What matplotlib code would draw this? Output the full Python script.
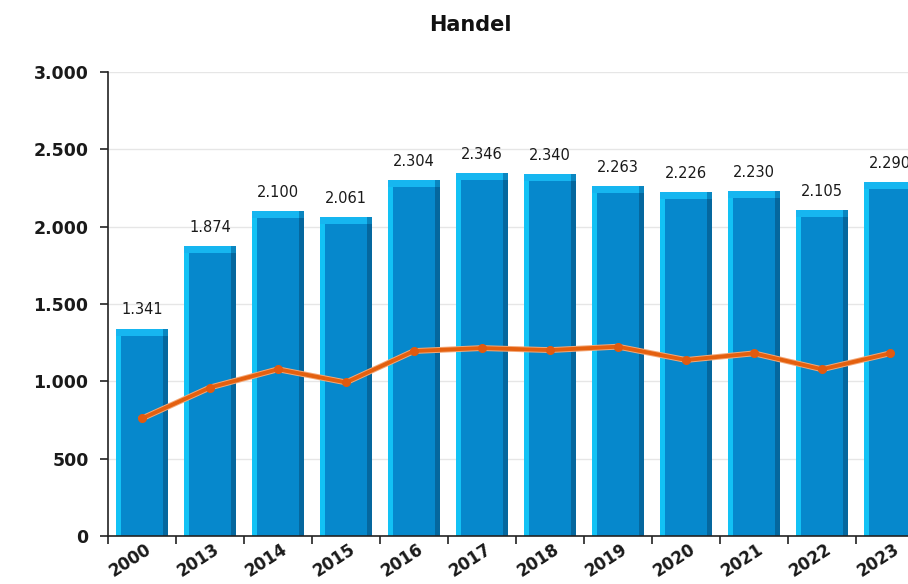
import matplotlib
matplotlib.use("Agg")
import matplotlib.pyplot as plt
import matplotlib.patheffects as pe
import matplotlib.transforms as mtransforms
from matplotlib.ticker import FuncFormatter, MultipleLocator
import numpy as np

categories = ["2000", "2013", "2014", "2015", "2016", "2017", "2018", "2019",
              "2020", "2021", "2022", "2023"]
bar_values = [1341, 1874, 2100, 2061, 2304, 2346, 2340, 2263, 2226, 2230, 2105, 2290]
line_values = [760, 960, 1078, 993, 1196, 1215, 1202, 1224, 1138, 1181, 1078, 1181]
title = "Handel"


def fmt(v):
    return f"{int(v):,}".replace(",", ".")


W, H = 908, 584
fig = plt.figure(figsize=(W / 100, H / 100), dpi=100)
ax_left, ax_right, ax_top, ax_bottom = 108, 924, 72, 536
ax = fig.add_axes([ax_left / W, (H - ax_bottom) / H,
                   (ax_right - ax_left) / W, (ax_bottom - ax_top) / H])

x = np.arange(len(categories))
bw = 0.77
main_c = "#0688CC"
light_c = "#12C2F5"
dark_c = "#05679E"

ax.set_xlim(-0.5, len(categories) - 0.5)
ax.set_ylim(0, 3000)

# bars with pseudo-3D styling
ax.bar(x, bar_values, width=bw, color=main_c, zorder=2)
edge_w = 0.07
ax.bar(x - bw / 2 + edge_w / 2, bar_values, width=edge_w, color=light_c, zorder=2.1)
ax.bar(x + bw / 2 - edge_w / 2, bar_values, width=edge_w, color=dark_c, zorder=2.1)
cap = 45
vals = np.array(bar_values)
ax.bar(x, [cap] * len(x), bottom=vals - cap, width=bw, color="#16B6F0", zorder=2.2)
ax.bar(x + bw / 2 - edge_w / 2, [cap] * len(x), bottom=vals - cap, width=edge_w,
       color="#0A86C0", zorder=2.3)

# value labels
for xi, v in zip(x, bar_values):
    ax.annotate(fmt(v), (xi, v), xytext=(0, 8), textcoords="offset points",
                ha="center", va="bottom", fontsize=10.5, color="#1a1a1a", zorder=5)

# line
ax.plot(x, line_values, color="#E4600F", lw=2.8, zorder=4, clip_on=False,
        path_effects=[pe.Stroke(linewidth=4.2, foreground="#F3A878"), pe.Normal()])
ax.plot(x, line_values, linestyle="none", marker="o", ms=5.5,
        markerfacecolor="#E05A10", markeredgecolor="#E05A10", zorder=4.5,
        clip_on=False)

# grid
ax.yaxis.set_major_locator(MultipleLocator(500))
ax.yaxis.set_major_formatter(FuncFormatter(lambda v, p: fmt(v)))
ax.grid(axis="y", color="#e6e6e6", lw=1, zorder=0)
ax.set_axisbelow(True)

for s in ["top", "right"]:
    ax.spines[s].set_visible(False)
ax.spines["left"].set_color("#222222")
ax.spines["bottom"].set_color("#222222")
ax.spines["left"].set_linewidth(1.2)
ax.spines["bottom"].set_linewidth(1.2)

ax.tick_params(axis="y", length=6, width=1.2, color="#222222", pad=8,
               labelsize=12.5, labelcolor="#1a1a1a")
for t in ax.get_yticklabels():
    t.set_fontweight("bold")

ax.set_xticks(x)
ax.set_xticklabels(categories, rotation=33, ha="right", va="top",
                   rotation_mode="anchor", fontsize=12, fontweight="bold",
                   color="#1a1a1a")
ax.tick_params(axis="x", which="major", length=0, pad=3)
ax.set_xticks(np.arange(len(categories) + 1) - 0.5, minor=True)
ax.tick_params(axis="x", which="minor", length=6, width=1.2, color="#222222")
offset = mtransforms.ScaledTranslation(3 / 100, 0, fig.dpi_scale_trans)
for lab in ax.get_xticklabels():
    lab.set_transform(lab.get_transform() + offset)

fig.text(470 / W, 1 - 25 / H, title, ha="center", va="center",
         fontsize=15, fontweight="bold", color="#111111")

fig.savefig("out.png", dpi=100)
